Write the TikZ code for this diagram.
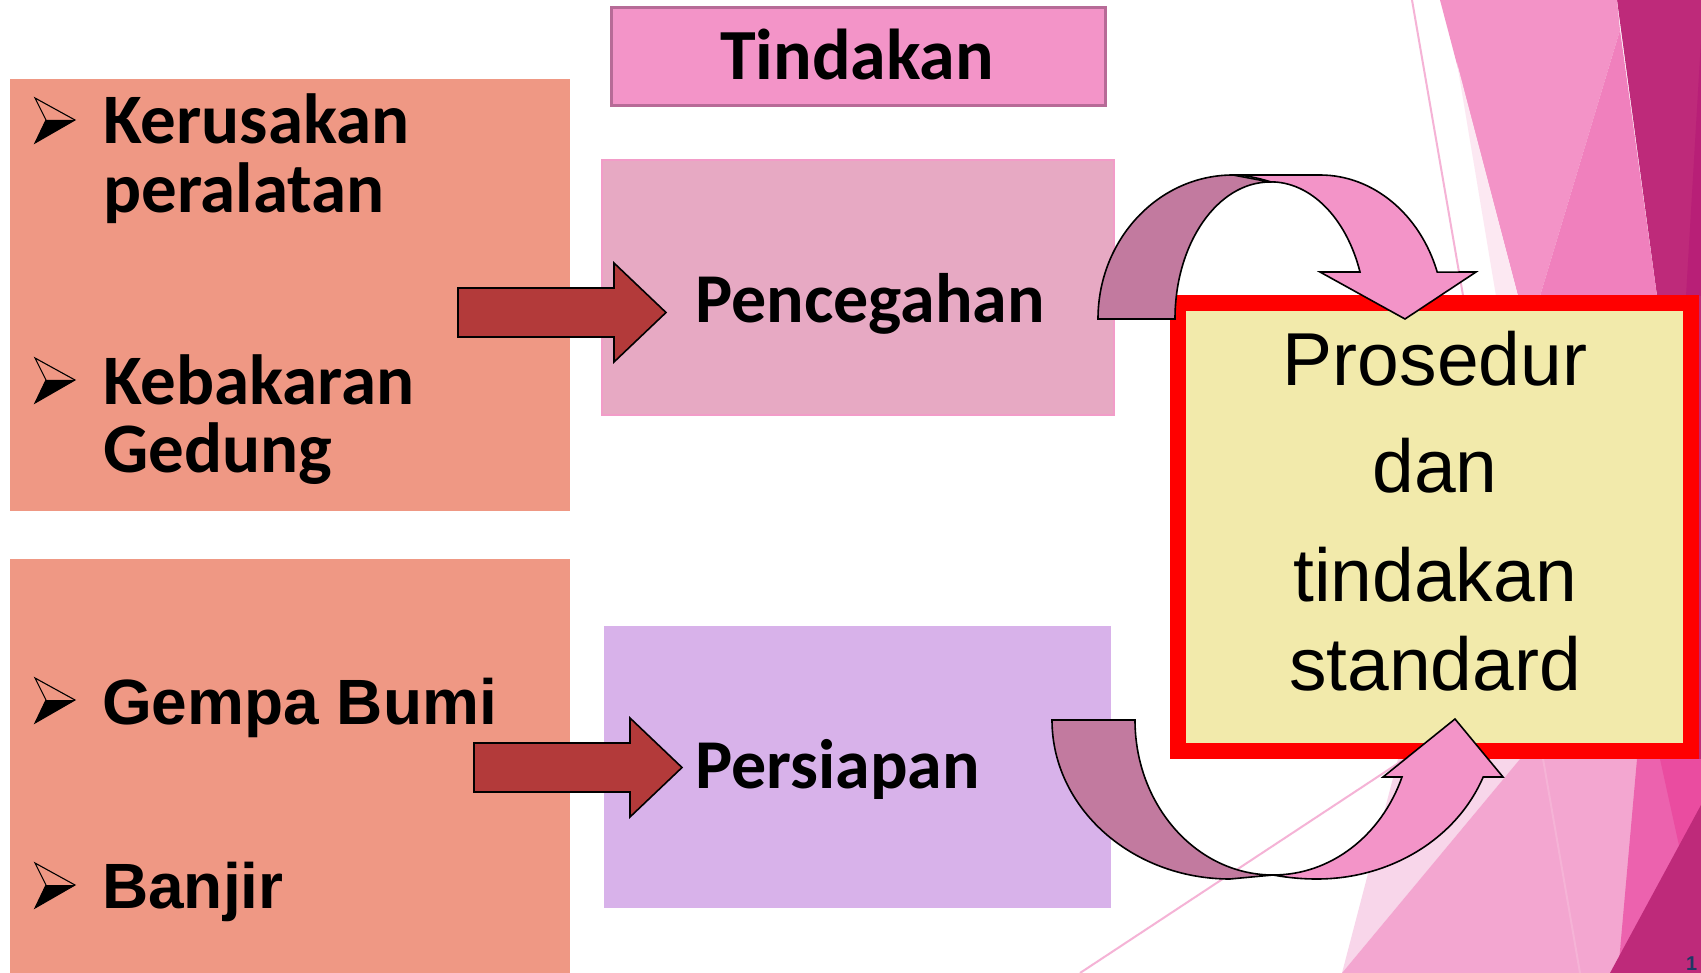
\documentclass[tikz,border=0pt]{standalone}
\usepackage{fontspec}
\setmainfont{Liberation Sans}
\newfontfamily\cand{Carlito}
\definecolor{salmon}{HTML}{EF9884}
\definecolor{tindfill}{HTML}{F394C8}
\definecolor{tindline}{HTML}{B76B97}
\definecolor{pencfill}{HTML}{E7A9C3}
\definecolor{pencline}{HTML}{F29CC8}
\definecolor{persfill}{HTML}{D8B2EA}
\definecolor{arrowred}{HTML}{B33A3A}
\definecolor{procfill}{HTML}{F2EAAB}
\definecolor{ribdark}{HTML}{C27A9F}
\definecolor{riblight}{HTML}{F394C8}
\definecolor{facetdark}{HTML}{BE2A7A}
\definecolor{facetsliver}{HTML}{B81F77}
\definecolor{facetA}{HTML}{F393C7}
\definecolor{facetB}{HTML}{F080BD}
\definecolor{facetpale}{HTML}{FCE8F2}
\definecolor{bpale}{HTML}{F8D6EA}
\definecolor{bmed}{HTML}{F3A6D0}
\definecolor{bhot}{HTML}{EC62AE}
\definecolor{bbright}{HTML}{EA4CA0}
\definecolor{thinpink}{HTML}{F5B3D6}
\definecolor{navy}{HTML}{1F3864}
\begin{document}
\begin{tikzpicture}[x=1pt,y=1pt,
  panel/.style={rectangle, inner sep=0, outer sep=0, anchor=north west},
  humtext/.style={font=\cand\bfseries\fontsize{71}{80}\selectfont, anchor=base west, inner sep=0},
  arialtext/.style={font=\bfseries\fontsize{64}{72}\selectfont, anchor=base west, inner sep=0},
  midtext/.style={font=\cand\bfseries\fontsize{70}{80}\selectfont, anchor=base west, inner sep=0},
  proctext/.style={font=\fontsize{75}{80}\selectfont, anchor=base, inner sep=0},
  blockarrow/.style={fill=arrowred, draw=black, line width=1.6, line join=miter},
  darkrib/.style={fill=ribdark, draw=black, line width=1.6, line join=miter},
  lightrib/.style={fill=riblight, draw=black, line width=1.6, line join=miter},
  bul/.pic={
    \fill[black] (11,-22) -- (40,-22) -- (0,-45) -- cycle;
    \draw[black, line width=1.1, line join=miter] (0,0) -- (40,-22) -- (0,-45) -- (11,-22) -- cycle;
  }]
\useasboundingbox (0,0) rectangle (1701,-973);
\fill[white] (0,0) rectangle (1701,-973);

% background facets, top right
\fill[facetdark] (1617,0) -- (1701,0) -- (1701,-296) -- (1657,-296) -- cycle;
\fill[facetdark] (1688,-290) rectangle (1701,-765);
\fill[facetsliver] (1701,-40) -- (1701,-296) -- (1686,-296) -- cycle;
\fill[facetA] (1440,0) -- (1617,0) -- (1620,-30) -- (1540,-296) -- (1518,-296) -- cycle;
\fill[facetB] (1620,-30) -- (1657,-296) -- (1540,-296) -- cycle;
\fill[facetpale] (1457,-63) -- (1496,-296) -- (1518,-296) -- cycle;
% background facets, bottom right
\fill[bpale] (1342,-973) -- (1398,-759) -- (1520,-759) -- cycle;
\fill[bmed] (1342,-973) -- (1520,-759) -- (1640,-759) -- (1618,-973) -- cycle;
\fill[bhot] (1637,-759) -- (1701,-759) -- (1701,-973) -- (1618,-973) -- cycle;
\fill[bbright] (1660,-759) -- (1701,-759) -- (1701,-812) -- (1680,-850) -- cycle;
\fill[facetdark] (1610,-973) -- (1701,-805) -- (1701,-973) -- cycle;
% thin lines
\coordinate (la) at (1412,0);
\coordinate (lb) at (1580,-973);
\coordinate (lc) at (1080,-973);
\coordinate (ld) at (1520,-683);
\draw[thinpink, line width=2] (la) -- (lb);
\draw[thinpink, line width=2] (lc) -- (ld);

% left panels
\node[panel, fill=salmon, minimum width=560, minimum height=432] (hazA) at (10,-79) {};
\node[panel, fill=salmon, minimum width=560, minimum height=420] (hazB) at (10,-559) {};

% middle panels
\node[rectangle, fill=tindfill, draw=tindline, line width=3, minimum width=494, minimum height=98, inner sep=0] (tind) at (858.5,-56.5) {};
\node[rectangle, fill=pencfill, draw=pencline, line width=2, minimum width=512, minimum height=255, inner sep=0] (penc) at (858,-287.5) {};
\node[panel, fill=persfill, minimum width=507, minimum height=282] (pers) at (604,-626) {};

% block arrows
\draw[blockarrow] (458,-288) -- (614,-288) -- (614,-263) -- (666,-312.5) -- (614,-362) -- (614,-337) -- (458,-337) -- cycle;
\draw[blockarrow] (474,-743) -- (630,-743) -- (630,-718) -- (682,-767.5) -- (630,-817) -- (630,-792) -- (474,-792) -- cycle;

% procedure box
\node[rectangle, draw=red, line width=16, fill=procfill, minimum width=513, minimum height=448, inner sep=0] (proc) at (1434.5,-527) {};

% curved arrow top
\draw[darkrib] (1098,-319) arc[start angle=180, end angle=90, x radius=135, y radius=144]
  -- (1270,-182) arc[start angle=90, end angle=180, x radius=95, y radius=137] -- cycle;
\draw[lightrib] (1233,-175) -- (1320,-175) arc[start angle=90, end angle=19, x radius=124, y radius=144]
  -- (1476,-272) -- (1405,-319) -- (1320,-272) -- (1360,-272)
  arc[start angle=20, end angle=90, x radius=95, y radius=137]
  .. controls (1258,-178) and (1245,-175) .. (1233,-175) -- cycle;

% curved arrow bottom
\draw[darkrib] (1052,-720) arc[start angle=180, end angle=270, x radius=178, y radius=159]
  -- (1273,-875) arc[start angle=270, end angle=180, x radius=138, y radius=155] -- cycle;
\draw[lightrib] (1273,-875) .. controls (1290,-878) and (1303,-879) .. (1317,-879)
  arc[start angle=270, end angle=339, x radius=178, y radius=159]
  -- (1503,-777) -- (1455,-719) -- (1383,-777) -- (1402,-777)
  arc[start angle=338.4, end angle=270, x radius=138, y radius=155] -- cycle;

% bullets
\pic at (35,-98) {bul};
\pic at (35,-358) {bul};
\pic at (35,-678) {bul};
\pic at (35,-863) {bul};

% texts
\node[humtext] (t1a) at (103,-144) {Kerusakan};
\node[humtext] (t1b) at (103,-213) {peralatan};
\node[humtext] (t2a) at (103,-405) {Kebakaran};
\node[humtext] (t2b) at (103,-473) {Gedung};
\node[arialtext] (t3) at (102,-724) {Gempa Bumi};
\node[arialtext] (t4) at (102,-908) {Banjir};
\node[font=\cand\bfseries\fontsize{72}{80}\selectfont, anchor=base, inner sep=0] (tindt) at (857,-80) {Tindakan};
\node[midtext] (penct) at (695,-323) {Pencegahan};
\node[midtext] (perst) at (695,-788) {Persiapan};
\node[proctext] (p1) at (1435,-386) {Prosedur};
\node[proctext] (p2) at (1435,-493) {dan};
\node[proctext] (p3) at (1435,-601) {tindakan};
\node[proctext] (p4) at (1435,-690) {standard};
\node[anchor=south west, inner sep=0, text=navy, font=\bfseries\fontsize{20}{22}\selectfont] (pg) at (1686,-971) {1};
\end{tikzpicture}
\end{document}
